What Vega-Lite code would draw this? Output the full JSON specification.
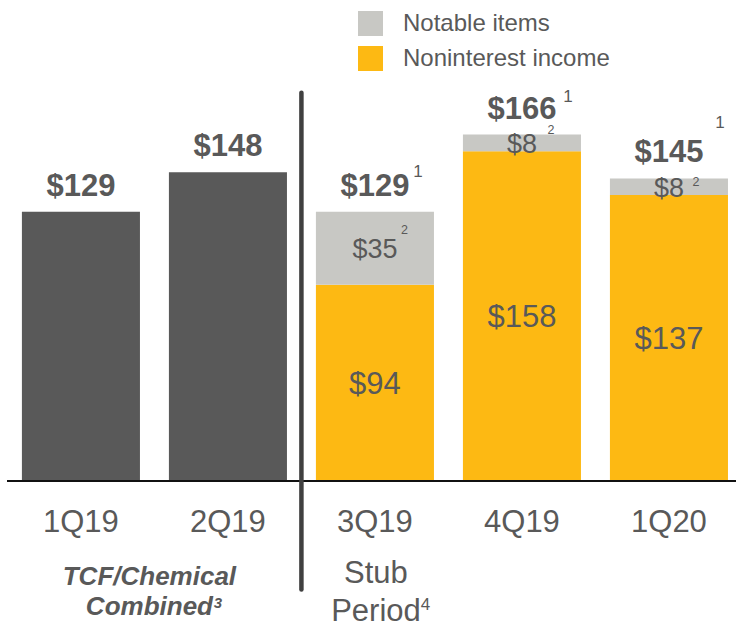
{
  "$schema": "https://vega.github.io/schema/vega-lite/v6.json",
  "width": 729,
  "height": 481,
  "autosize": {"type": "none"},
  "padding": {"left": 7, "top": 0, "right": 0, "bottom": 142},
  "background": "white",
  "config": {"font": "Liberation Sans", "view": {"stroke": null}},
  "datasets": {
    "bars": [
      {"quarter": "1Q19", "series": "Combined", "value": 129},
      {"quarter": "2Q19", "series": "Combined", "value": 148},
      {"quarter": "3Q19", "series": "Noninterest income", "value": 94},
      {"quarter": "3Q19", "series": "Notable items", "value": 35},
      {"quarter": "4Q19", "series": "Noninterest income", "value": 158},
      {"quarter": "4Q19", "series": "Notable items", "value": 8},
      {"quarter": "1Q20", "series": "Noninterest income", "value": 137},
      {"quarter": "1Q20", "series": "Notable items", "value": 8}
    ],
    "totals": [
      {"quarter": "1Q19", "total": 129},
      {"quarter": "2Q19", "total": 148},
      {"quarter": "3Q19", "total": 129},
      {"quarter": "4Q19", "total": 166},
      {"quarter": "1Q20", "total": 145}
    ],
    "notes": [
      {"quarter": "3Q19", "total": 129, "note": "1"},
      {"quarter": "4Q19", "total": 166, "note": "1"},
      {"quarter": "1Q20", "total": 145, "note": "1"},
      {"quarter": "3Q19", "total": 129, "note": "2"},
      {"quarter": "4Q19", "total": 166, "note": "2"},
      {"quarter": "1Q20", "total": 145, "note": "2"}
    ],
    "groups": [
      {"quarter": "2Q19", "period": "TCF/Chemical\nCombined", "note": "3"},
      {"quarter": "3Q19", "period": "Stub\nPeriod", "note": "4"}
    ]
  },
  "layer": [
    {
      "data": {"name": "bars"},
      "mark": {"type": "bar"},
      "encoding": {
        "x": {
          "field": "quarter",
          "type": "nominal",
          "scale": {
            "domain": ["1Q19", "2Q19", "3Q19", "4Q19", "1Q20"],
            "paddingInner": 0.197,
            "paddingOuter": 0.078,
            "align": 0.65,
            "round": false
          },
          "axis": null
        },
        "y": {
          "field": "value",
          "type": "quantitative",
          "stack": "zero",
          "scale": {"domain": [0, 230.5], "nice": false, "zero": false},
          "axis": null
        },
        "order": {"field": "series", "type": "ordinal", "sort": "ascending"},
        "color": {
          "field": "series",
          "type": "nominal",
          "scale": {
            "domain": ["Notable items", "Noninterest income", "Combined"],
            "range": ["#C8C8C4", "#FDB913", "#595959"]
          },
          "legend": {
            "values": ["Notable items", "Noninterest income"],
            "orient": "none",
            "legendX": 351,
            "legendY": 11,
            "title": null,
            "symbolType": "square",
            "symbolSize": 625,
            "symbolStrokeWidth": 0,
            "labelFontSize": 24,
            "labelColor": "#595959",
            "labelFont": "Liberation Sans",
            "labelOffset": 20,
            "labelLimit": 400,
            "rowPadding": 10,
            "padding": 0
          }
        }
      }
    },
    {
      "data": {"name": "bars"},
      "transform": [{"filter": "datum.series !== 'Combined'"}],
      "mark": {"type": "text", "baseline": "middle", "dy": 2, "color": "#595959"},
      "encoding": {
        "x": {"field": "quarter", "type": "nominal"},
        "y": {"field": "value", "type": "quantitative", "stack": "zero", "bandPosition": 0.5},
        "detail": {"field": "series", "type": "nominal"},
        "order": {"field": "series", "type": "ordinal", "sort": "ascending"},
        "text": {"field": "value", "type": "quantitative", "format": "$d"},
        "size": {
          "field": "series",
          "type": "ordinal",
          "scale": {"domain": ["Noninterest income", "Notable items"], "range": [31, 27]},
          "legend": null
        }
      }
    },
    {
      "data": {"name": "totals"},
      "mark": {"type": "text", "baseline": "alphabetic", "dy": -16, "fontSize": 31, "fontWeight": "bold", "color": "#595959"},
      "encoding": {
        "x": {"field": "quarter", "type": "nominal"},
        "y": {"field": "total", "type": "quantitative"},
        "text": {"field": "total", "type": "quantitative", "format": "$d"}
      }
    },
    {
      "data": {"name": "notes"},
      "transform": [{"filter": "datum.note === '1' && datum.quarter === '3Q19'"}],
      "mark": {"type": "text", "baseline": "middle", "dx": 43, "dy": -40, "fontSize": 17, "color": "#595959"},
      "encoding": {
        "x": {"field": "quarter", "type": "nominal"},
        "y": {"field": "total", "type": "quantitative"},
        "text": {"field": "note"}
      }
    },
    {
      "data": {"name": "notes"},
      "transform": [{"filter": "datum.note === '1' && datum.quarter === '4Q19'"}],
      "mark": {"type": "text", "baseline": "middle", "dx": 46, "dy": -37.5, "fontSize": 17, "color": "#595959"},
      "encoding": {
        "x": {"field": "quarter", "type": "nominal"},
        "y": {"field": "total", "type": "quantitative"},
        "text": {"field": "note"}
      }
    },
    {
      "data": {"name": "notes"},
      "transform": [{"filter": "datum.note === '1' && datum.quarter === '1Q20'"}],
      "mark": {"type": "text", "baseline": "middle", "dx": 51, "dy": -55, "fontSize": 17, "color": "#595959"},
      "encoding": {
        "x": {"field": "quarter", "type": "nominal"},
        "y": {"field": "total", "type": "quantitative"},
        "text": {"field": "note"}
      }
    },
    {
      "data": {"name": "notes"},
      "transform": [{"filter": "datum.note === '2' && datum.quarter === '3Q19'"}],
      "mark": {"type": "text", "baseline": "middle", "dx": 29.5, "dy": 18.5, "fontSize": 12.5, "color": "#595959"},
      "encoding": {
        "x": {"field": "quarter", "type": "nominal"},
        "y": {"field": "total", "type": "quantitative"},
        "text": {"field": "note"}
      }
    },
    {
      "data": {"name": "notes"},
      "transform": [{"filter": "datum.note === '2' && datum.quarter === '4Q19'"}],
      "mark": {"type": "text", "baseline": "middle", "dx": 29, "dy": -4.5, "fontSize": 12.5, "color": "#595959"},
      "encoding": {
        "x": {"field": "quarter", "type": "nominal"},
        "y": {"field": "total", "type": "quantitative"},
        "text": {"field": "note"}
      }
    },
    {
      "data": {"name": "notes"},
      "transform": [{"filter": "datum.note === '2' && datum.quarter === '1Q20'"}],
      "mark": {"type": "text", "baseline": "middle", "dx": 27, "dy": 3.5, "fontSize": 12.5, "color": "#595959"},
      "encoding": {
        "x": {"field": "quarter", "type": "nominal"},
        "y": {"field": "total", "type": "quantitative"},
        "text": {"field": "note"}
      }
    },
    {
      "data": {"name": "totals"},
      "mark": {"type": "text", "baseline": "alphabetic", "dy": 51, "fontSize": 31, "color": "#595959"},
      "encoding": {
        "x": {"field": "quarter", "type": "nominal"},
        "y": {"datum": 0, "type": "quantitative"},
        "text": {"field": "quarter"}
      }
    },
    {
      "data": {"name": "groups"},
      "transform": [{"filter": "datum.note === '3'"}],
      "mark": {"type": "text", "baseline": "alphabetic", "align": "center", "dx": -19.5, "dy": 104, "fontSize": 26, "fontWeight": "bold", "fontStyle": "italic", "lineBreak": "\n", "lineHeight": 30, "color": "#595959"},
      "encoding": {
        "x": {"field": "quarter", "type": "nominal", "bandPosition": 0},
        "y": {"datum": 0, "type": "quantitative"},
        "text": {"field": "period"}
      }
    },
    {
      "data": {"name": "groups"},
      "transform": [{"filter": "datum.note === '3'"}],
      "mark": {"type": "text", "baseline": "middle", "align": "center", "dx": 49, "dy": 122, "fontSize": 15, "fontWeight": "bold", "fontStyle": "italic", "color": "#595959"},
      "encoding": {
        "x": {"field": "quarter", "type": "nominal", "bandPosition": 0},
        "y": {"datum": 0, "type": "quantitative"},
        "text": {"field": "note"}
      }
    },
    {
      "data": {"name": "groups"},
      "transform": [{"filter": "datum.note === '4'"}],
      "mark": {"type": "text", "baseline": "alphabetic", "align": "center", "dx": 1, "dy": 102, "fontSize": 31, "lineBreak": "\n", "lineHeight": 38, "color": "#595959"},
      "encoding": {
        "x": {"field": "quarter", "type": "nominal"},
        "y": {"datum": 0, "type": "quantitative"},
        "text": {"field": "period"}
      }
    },
    {
      "data": {"name": "groups"},
      "transform": [{"filter": "datum.note === '4'"}],
      "mark": {"type": "text", "baseline": "middle", "align": "center", "dx": 50.5, "dy": 124, "fontSize": 17, "color": "#595959"},
      "encoding": {
        "x": {"field": "quarter", "type": "nominal"},
        "y": {"datum": 0, "type": "quantitative"},
        "text": {"field": "note"}
      }
    },
    {
      "data": {"name": "totals"},
      "transform": [{"filter": "datum.quarter === '1Q19'"}],
      "mark": {"type": "rule", "color": "#111111", "strokeWidth": 2},
      "encoding": {
        "y": {"datum": 0, "type": "quantitative"}
      }
    },
    {
      "data": {"name": "groups"},
      "transform": [{"filter": "datum.note === '4'"}],
      "mark": {"type": "rule", "color": "#404040", "strokeWidth": 4.5, "strokeCap": "round", "xOffset": -14.5},
      "encoding": {
        "x": {"field": "quarter", "type": "nominal", "bandPosition": 0},
        "y": {"datum": 186, "type": "quantitative"},
        "y2": {"datum": -52}
      }
    }
  ]
}
